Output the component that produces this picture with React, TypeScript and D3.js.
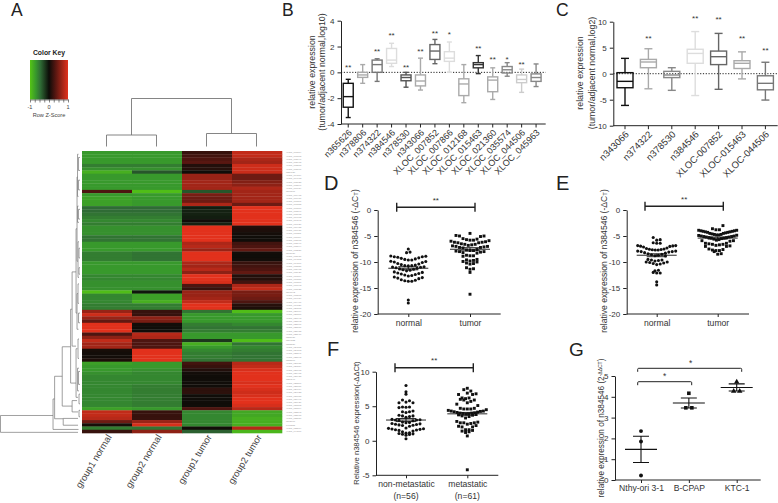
import React, { useEffect, useRef } from "react";
import * as d3 from "d3";

const FONT = "'Liberation Sans', Arial, sans-serif";
const INK = "#333";

// panel A - heatmap (row z-scores)
const heatColumns = ["group1 normal", "group2 normal", "group1 tumor", "group2 tumor"];
const group1Normal = [-.7,-.7,-.7,-.7,-.55,-.65,-.85,-.7,-.7,-.7,-.7,-.7,.3,-.7,-.75,-.75,-.75,-.45,-.45,-.5,-.55,-.6,-.55,-.65,-.65,-.65,-.5,-.5,-.7,-.7,-.7,-.55,-.55,-.55,-.7,-.7,-.7,-.7,-.6,-.6,-.65,-.65,-.65,-.95,-.6,-.6,-.6,-.55,-.55,.65,.9,.65,.4,1,1,1,.3,.6,.85,.7,.7,.05,.03,.03,.08,-.75,-.7,-.7,-.65,-.6,-.6,-.6,-.6,-.6,-.6,-.6,-.6,-.6,-.6,-.75,.85,.85,.8,.45,.05,-.55,.2];
const group2Normal = [-.7,-.7,-.7,-.7,-.55,-.65,-.35,-.7,-.7,-.7,-.7,-.7,-.95,-.7,-.7,-.7,-.7,-.45,-.45,-.5,-.55,-.6,-.55,-.65,-.65,-.65,-.5,-.5,-.7,-.7,-.7,-.5,-.5,-.5,-.7,-.7,-.7,-.7,-.6,-.6,-.65,-.65,-.65,-.05,-.75,-.75,-.85,-.55,-.55,.2,.2,.6,.5,.03,.02,.02,.8,.75,.3,.3,.3,1,1,1,1,-.7,-.7,-.65,-.6,-.6,-.6,-.6,-.55,-.55,-.55,-.55,-.55,-.55,-.55,-.7,.2,.2,.2,.65,.95,-.5,.6];
const group1Tumor = [.2,.25,.3,.35,.1,.12,.02,.65,.65,.7,.7,.7,-.35,.5,.45,.45,.75,-.08,-.1,-.1,-.08,.02,-.1,1,1,1,1,1,.75,.8,.65,1,1,1,.75,.7,.8,.6,1,1,.95,.3,.2,.65,.65,.7,.85,1,1,-.5,-.7,-.7,-.7,-.55,-.5,-.55,-.7,-.7,-.2,-.85,-.7,-.6,-.55,-.55,-.5,.25,.2,.1,.03,.02,.02,.02,.02,.15,.15,.02,.02,.02,.02,.3,-.6,-.6,-.6,-.6,-.6,.03,-.4];
const group2Tumor = [.85,.85,.75,.7,.9,.9,.88,.45,.45,.55,.6,.75,.7,.7,.7,.7,.45,1,1,1,1,1,1,.1,.08,.04,.02,.02,.25,.3,.4,.03,.02,.03,.2,.25,.3,.4,.1,.12,.25,.75,.85,.5,.5,.45,.3,.12,.08,-.95,-.7,-.7,-.7,-.6,-.5,-.55,-.7,-.7,-.95,-.5,-.6,-.55,-.5,-.5,-.5,.8,.85,.95,1,1,1,.95,1,.95,.9,.95,1,1,.95,.8,-.8,-.8,-.85,-.85,-.85,.8,-.9];
const heatRowLabels = [
  "XLOC_001374","XLOC_001862","XLOC_002147","XLOC_002905","XLOC_003318","XLOC_003761","n334126","XLOC_004219","XLOC_004673","XLOC_005128","XLOC_005590","XLOC_006034",
  "n340871","XLOC_006412","XLOC_006957","XLOC_007301","XLOC_007852","XLOC_007866","XLOC_008240","XLOC_008715","XLOC_009163","XLOC_009548","XLOC_010026","XLOC_010482",
  "XLOC_010937","XLOC_011305","XLOC_011769","XLOC_012168","XLOC_012640","XLOC_013094","XLOC_013527","n345630","XLOC_013981","XLOC_014362","XLOC_014806","XLOC_015237",
  "XLOC_015463","XLOC_015920","XLOC_016374","XLOC_016851","XLOC_017206","XLOC_017693","XLOC_018125","n347792","XLOC_018568","XLOC_019034","XLOC_019471","XLOC_019826",
  "XLOC_020315","XLOC_020764","XLOC_021360","XLOC_021748","XLOC_022193","XLOC_022607","XLOC_023051","XLOC_023482","XLOC_023916","n365626","n374322","n378530",
  "XLOC_024375","XLOC_024803","XLOC_025241","XLOC_025692","n378806","XLOC_026137","XLOC_026584","XLOC_027012","XLOC_027465","XLOC_027938","n384546","XLOC_028306",
  "XLOC_028751","XLOC_029174","XLOC_029623","XLOC_030058","XLOC_030491","XLOC_030927","XLOC_031362","XLOC_031804","XLOC_032245","XLOC_032718","XLOC_033150","n343066",
  "n401258","XLOC_035574","XLOC_044506",
];
const keyDomain = [-1, -.7, -.45, 0, .3, 1];
const keyColors = ["#55c414", "#38992c", "#2f6b35", "#0c0c08", "#4d1510", "#e2311c"];
const keyTicks = [-1, -.75, -.5, -.25, 0, .25, .5, .75, 1];
const keyLabels = [-1, 0, 1];

// dendrograms: [merge height, top/left member, bottom/right member, height of first child, height of second]
const colMerges = [
  [48, 0.5, 2.5, 11.5, 13],
  [11.5, 0, 1, 0, 0],
  [13, 2, 3, 0, 0],
];
const rowMerges = [
  [80.5, 81.6, 86.8, 27.3, 2], [27.3, 76.5, 85.9, 25.7, 1.5], [25.7, 69.5, 82.6, 18, 17],
  [18, 60.4, 78.7, 9.5, 8], [9.5, 48.8, 71.6, 8, 4], [8, 37.3, 60.2, 4, 4],
  [17, 82.5, 84.6, 2, 2], [8, 77, 80.5, 3, 2], [4, 24, 50, 3, 3], [4, 61, 76, 2.5, 2],
  [3, 8, 34, 2.5, 2], [3, 44, 55, 2, 1.5], [2.5, 1, 14, 1.5, 1.5], [2.5, 17, 22, 1.5, 1],
  [2, 28, 39, 1, 1], [2, 41, 47, 1, 1], [2, 58, 64, 1, 1], [2.5, 67, 74, 1, 1], [1.5, 2, 6, 0, 0],
  [1.5, 9, 12, 0, 0], [1.5, 18, 21, 0, 0], [1, 30, 33, 0, 0], [1, 36, 38, 0, 0], [1.5, 50, 53, 0, 0],
  [1.5, 68, 72, 0, 0], [1, 75, 78, 0, 0], [1, 80, 82, 0, 0],
];

// panel B
const bNames = ["n365626","n378806","n374322","n384546","n378530","n343066","XLOC_007852","XLOC_007866","XLOC_012168","XLOC_015463","XLOC_021360","XLOC_035574","XLOC_044506","XLOC_045963"];
const bLow = [-3.5,-.85,-.7,.45,-1.15,-1.37,.67,0,-2.35,-.1,-2.1,-.3,-1.55,-1.1];
const bQ1 = [-2.7,-.39,0,.7,-.65,-1.05,1,.85,-1.8,.35,-1.5,-.05,-.8,-.7];
const bMed = [-1.88,-.2,.6,.95,-.4,-.67,1.65,1.1,-.9,.6,-.6,.2,-.55,-.4];
const bQ3 = [-.85,0,.95,1.85,-.2,-.2,2.15,1.6,-.5,.75,-.35,.45,-.2,-.12];
const bHigh = [-.54,.6,1.05,2.25,0,1.1,2.55,2.35,.6,1.3,.35,.75,.25,.65];
const bColors = ["#111","#aaa","#777","#ddd","#555","#aaa","#666","#ddd","#aaa","#333","#aaa","#888","#ccc","#888"];
const bStars = ["**","","**","**","**","**","**","*","","**","**","*","**",""];
const bStarAt = [.52,0,1.8,2.97,.52,1.8,3.2,3.1,0,2.04,1.16,1.16,.8,0];
const bTicks = [-4,-2,0,2,4];

// panel C
const cNames = ["n343066","n374322","n378530","n384546","XLOC-007852","XLOC-015463","XLOC-044506"];
const cLow = [-6.1,-2.9,-3.2,-4.2,-3,-1,-5.07];
const cQ1 = [-2.7,1.15,-.75,2,1.75,1,-3.1];
const cMed = [-1.47,2.25,-.25,3.9,3.27,2,-1.85];
const cQ3 = [.2,2.75,.45,4.7,4.35,2.5,-.4];
const cHigh = [2.95,4.8,1.15,8.1,7.75,4.2,2.2];
const cColors = ["#111","#aaa","#888","#ddd","#666","#aaa","#777"];
const cStars = ["","**","","**","**","**","**"];
const cStarAt = [0,7.24,0,10.96,10.77,7.1,4.8];
const cTicks = [-10,-5,0,5,10];

// panels D, E
const dNormal = [-7.5,-8.1,-8.2,-8.85,-8.9,-9,-9,-9.1,-9.2,-9.3,-9.4,-9.5,-9.6,-9.6,-9.85,-9.9,-10,-10.1,-10.3,-10.4,-10.5,-10.6,-10.7,-10.7,-10.75,-10.9,-10.95,-11,-11.1,-11.2,-11.3,-11.4,-11.5,-11.6,-11.7,-11.9,-12,-12.1,-12.2,-12.3,-12.4,-12.5,-12.6,-12.7,-12.9,-13,-13.1,-13.2,-13.4,-13.5,-13.6,-13.7,-13.7,-17.3,-17.9];
const dTumor = [-4.5,-4.9,-5,-5,-5.1,-5.5,-5.6,-5.7,-5.8,-5.8,-5.9,-6,-6.1,-6.2,-6.2,-6.3,-6.3,-6.5,-6.6,-6.6,-6.7,-6.8,-6.9,-7,-7,-7.1,-7.2,-7.2,-7.3,-7.6,-7.7,-7.8,-7.8,-7.9,-8,-8,-8.1,-8.2,-8.3,-8.7,-8.8,-8.8,-8.9,-9.5,-9.6,-9.7,-9.8,-9.9,-10,-10.2,-10.3,-10.4,-11.1,-11.3,-11.4,-12,-16.2];
const eNormal = [-5.3,-5.7,-5.8,-6.3,-6.4,-6.4,-6.85,-6.85,-6.9,-6.95,-7,-7.1,-7.3,-7.4,-7.5,-7.55,-7.6,-7.65,-7.7,-7.7,-7.9,-7.9,-8,-8,-8.1,-8.2,-8.3,-8.4,-8.5,-8.6,-8.7,-8.8,-8.85,-9.5,-9.6,-9.6,-9.7,-9.8,-10,-10,-10.1,-10.2,-10.3,-10.4,-10.5,-11.6,-11.7,-12,-12.1,-12.1,-13.8,-14.4];
const eTumor = [-3,-3.6,-3.8,-3.8,-3.9,-3.9,-4,-4,-4.1,-4.1,-4.2,-4.2,-4.3,-4.3,-4.4,-4.5,-4.5,-4.6,-4.7,-4.7,-4.8,-4.8,-4.85,-4.9,-5,-5,-5.1,-5.1,-5.2,-5.2,-5.3,-5.3,-5.4,-5.4,-5.5,-5.6,-5.7,-5.8,-5.9,-5.9,-6,-6.4,-6.4,-6.5,-6.6,-6.6,-6.7,-6.8,-6.9,-7,-7,-7.5,-7.6,-7.7,-7.8,-7.8,-8,-8.4,-8.5];
const dLabels = ["normal", "tumor"];
const dMeans = [-11.2, -7.55];
const dErr = [.3, .3];
const eMeans = [-8.7, -5.4];
const eErr = [.28, .2];
const dTicks = [0,-5,-10,-15,-20];

// panel F
const fNormal = [8,7.1,6.75,5.9,5.8,5.6,5.5,5.5,4.9,4.9,4.85,4.8,4.3,4.2,4.2,4.1,3.7,3.6,3.6,3.5,3.4,3.1,3.05,3,3,2.95,2.9,2.7,2.65,2.6,2.5,2.45,2.4,2.35,2.3,2.25,2.2,2.1,1.85,1.8,1.75,1.7,1.65,1.6,1.55,1.5,1.4,1.3,1.15,1.1,1.05,1,.95,.9,.8,.3];
const fTumor = [7.6,7.4,7.2,6.9,6.8,6.7,6.7,6.2,6.2,6.1,6,5.9,5.9,5.7,5.5,5.3,5.1,4.7,4.7,4.6,4.6,4.6,4.5,4.4,4.3,4.3,4.25,4.2,4.15,4.1,4.05,4,4,3.95,3.9,3.85,3.8,3.75,3.7,3.6,3.5,3.3,2.8,2.7,2.6,2.6,2.6,2.5,2.4,2.2,2.1,2,2,1.6,1.6,1.5,1.4,1.3,1.2,.7,-4.2];
const fLabels = ["non-metastatic", "metastatic"];
const fCounts = ["(n=56)", "(n=61)"];
const fMeans = [3, 3.9];
const fErr = [.22, .2];
const fTicks = [-5,0,5,10];

// panel G
const gLabels = ["Nthy-ori 3-1", "B-CPAP", "KTC-1"];
const gPoints = [[2.35, 1.85, .22], [4.17, 3.47, 3.47], [4.72, 4.27, 4.27]];
const gMeans = [1.47, 3.7, 4.45];
const gErr = [.63, .24, .17];
const gTicks = [0,1,2,3,4,5];

type Sel = d3.Selection<any, any, any, any>;

const plainTick = (d: any) => String(d);

function makeText(g: Sel, x: number, y: number, str: string, size: number, anchor = "middle", color = INK) {
  return g.append("text").attr("x", x).attr("y", y).attr("font-size", size)
    .attr("text-anchor", anchor).attr("fill", color).text(str);
}

function styleAxis(ax: Sel, size: number) {
  ax.selectAll("path,line").attr("stroke", "#222").attr("stroke-width", 1);
  ax.selectAll("text").attr("font-size", size).attr("fill", INK).attr("font-family", FONT);
}

function rotatedLabel(g: Sel, x: number, y: number, size: number, str: string) {
  return g.append("text").attr("transform", `translate(${x},${y}) rotate(-90)`)
    .attr("text-anchor", "middle").attr("font-size", size).attr("fill", INK).text(str);
}

function drawBoxes(g: Sel, opts: any) {
  const { names, low, q1, med, q3, high, colors, stars, starAt, ticks, domain, x0, x1, xEnd, yTop, yBot, boxW, capW, labelSize } = opts;
  const x = d3.scaleBand().domain(names).range([x0, x1]);
  const y = d3.scaleLinear().domain(domain).range([yBot, yTop]);
  const cx = (n: string) => x(n)! + x.bandwidth() / 2;

  const ya = g.append("g").attr("transform", `translate(${x0},0)`)
    .call(d3.axisLeft(y).tickValues(ticks).tickSize(3.5).tickSizeOuter(0).tickFormat(plainTick));
  styleAxis(ya, 8);
  const xa = g.append("g").attr("transform", `translate(0,${yBot})`)
    .call(d3.axisBottom(x).tickSize(3.5).tickSizeOuter(0));
  styleAxis(xa, labelSize);
  xa.select(".domain").attr("d", `M${x0},0H${xEnd}`);
  xa.selectAll(".tick text").attr("text-anchor", "end").attr("x", -3.5).attr("y", 6.4).attr("dy", "0.35em")
    .attr("transform", "rotate(-45)");

  g.append("line").attr("x1", x0).attr("x2", xEnd).attr("y1", y(0)).attr("y2", y(0))
    .attr("stroke", "#222").attr("stroke-width", 1).attr("stroke-dasharray", "1.2 1.6");

  names.forEach((n: string, i: number) => {
    const c = cx(n);
    const b = g.append("g").attr("stroke", colors[i]).attr("stroke-width", 1.4).attr("fill", "none");
    b.append("line").attr("x1", c).attr("x2", c).attr("y1", y(high[i])).attr("y2", y(q3[i]));
    b.append("line").attr("x1", c).attr("x2", c).attr("y1", y(q1[i])).attr("y2", y(low[i]));
    b.append("line").attr("x1", c - capW / 2).attr("x2", c + capW / 2).attr("y1", y(high[i])).attr("y2", y(high[i]));
    b.append("line").attr("x1", c - capW / 2).attr("x2", c + capW / 2).attr("y1", y(low[i])).attr("y2", y(low[i]));
    b.append("rect").attr("x", c - boxW / 2).attr("width", boxW).attr("y", y(q3[i])).attr("height", y(q1[i]) - y(q3[i]));
    b.append("line").attr("x1", c - boxW / 2).attr("x2", c + boxW / 2).attr("y1", y(med[i])).attr("y2", y(med[i]));
    if (stars[i]) makeText(g, c, y(starAt[i]) + 4.5, stars[i], 8);
  });
}

// GraphPad style columns: each bin spreads out from the middle, lowest value in the centre
function swarm(values: number[], binSize: number, spacing: number, shift: number, maxWidth = 38) {
  const lo = d3.min(values)! - binSize * 2;
  const hi = d3.max(values)! + binSize * 2;
  const bins = d3.bin().domain([lo, hi]).thresholds(d3.range(Math.floor(lo) + shift, hi, binSize))(values);
  const out: { v: number; off: number }[] = [];
  bins.forEach((b) => {
    const s = [...b].sort(d3.ascending);
    const n = s.length;
    const step = n > 1 ? Math.min(spacing, maxWidth / (n - 1)) : spacing;
    s.forEach((v, i) => {
      const side = i % 2 ? 1 : -1;
      const r = n % 2 ? Math.ceil(i / 2) * side : (Math.floor(i / 2) + 0.5) * side;
      out.push({ v, off: r * step });
    });
  });
  return out;
}

function drawMeanBars(g: Sel, cx: number, y: any, mean: number, err: number, meanW: number, capW: number, sw = 1.1) {
  const p = d3.path();
  p.moveTo(cx - meanW / 2, y(mean)); p.lineTo(cx + meanW / 2, y(mean));
  p.moveTo(cx - capW / 2, y(mean + err)); p.lineTo(cx + capW / 2, y(mean + err));
  p.moveTo(cx - capW / 2, y(mean - err)); p.lineTo(cx + capW / 2, y(mean - err));
  p.moveTo(cx, y(mean + err)); p.lineTo(cx, y(mean - err));
  g.append("path").attr("d", p.toString()).attr("fill", "none").attr("stroke", "#111").attr("stroke-width", sw);
}

function drawScatter(g: Sel, opts: any) {
  const { a, b, labels, means, errs, ticks, domain, x0, xEnd, tickA, tickB, yTop, yBot, brY, brA, brB, spacing, binSize, shift } = opts;
  const y = d3.scaleLinear().domain(domain).range([yBot, yTop]);
  const x = d3.scalePoint().domain(labels).range([tickA, tickB]);

  const ya = g.append("g").attr("transform", `translate(${x0},0)`)
    .call(d3.axisLeft(y).tickValues(ticks).tickSize(3.5).tickSizeOuter(0).tickFormat(plainTick));
  styleAxis(ya, 8);
  const xa = g.append("g").attr("transform", `translate(0,${yBot})`)
    .call(d3.axisBottom(x).tickSize(3).tickSizeOuter(0));
  styleAxis(xa, 8.6);
  xa.select(".domain").attr("d", `M${x0},0H${xEnd}`);
  xa.selectAll(".tick text").attr("dy", 5.7);

  const br = d3.path();
  br.moveTo(brA, brY - 4.5); br.lineTo(brA, brY + 4.5);
  br.moveTo(brA, brY); br.lineTo(brB, brY);
  br.moveTo(brB, brY - 4.5); br.lineTo(brB, brY + 4.5);
  g.append("path").attr("d", br.toString()).attr("fill", "none").attr("stroke", "#222").attr("stroke-width", 1.4);
  makeText(g, (brA + brB) / 2, brY - 4.5, "**", 8);

  [a, b].forEach((vals: number[], k: number) => {
    const cx = x(labels[k])!;
    const sym = d3.symbol().type(k ? d3.symbolSquare : d3.symbolCircle).size(k ? 8.5 : 7.5)();
    g.append("g").selectAll("path").data(swarm(vals, binSize, spacing, shift)).join("path")
      .attr("d", sym as string).attr("fill", "#111")
      .attr("transform", (d) => `translate(${cx + d.off},${y(d.v)})`);
    drawMeanBars(g, cx, y, means[k], errs[k], 40, 20, 0.9);
  });
  return { x, y };
}

function drawHeatmap(g: Sel) {
  const x = d3.scaleBand().domain(heatColumns).range([82, 282]);
  const y = d3.scaleBand().domain(d3.range(group1Normal.length).map(String)).range([151, 433]);
  const color = d3.scaleLinear<string>().domain(keyDomain).range(keyColors);
  const cols = [group1Normal, group2Normal, group1Tumor, group2Tumor];

  cols.forEach((vals, c) => {
    g.append("g").selectAll("rect").data(vals).join("rect")
      .attr("x", x(heatColumns[c])!).attr("width", x.bandwidth() + 0.3)
      .attr("y", (_, i) => y(String(i))!).attr("height", y.bandwidth() + 0.3)
      .attr("fill", (d) => color(d));
  });

  g.append("g").selectAll("text").data(heatRowLabels).join("text")
    .attr("x", 286).attr("y", (_, i) => y(String(i))! + y.bandwidth() / 2 + 0.8)
    .attr("font-size", 2.3).attr("fill", "#999").text((d) => d);

  heatColumns.forEach((name) => {
    const cx = x(name)! + x.bandwidth() / 2 + 5;
    g.append("text").attr("transform", `translate(${cx},437) rotate(-59)`)
      .attr("text-anchor", "end").attr("font-size", 9.4).attr("fill", "#444").text(name);
  });

  // top dendrogram
  const colX = d3.scaleLinear().domain([0, 3]).range([106.5, 256.5]);
  const colH = d3.scaleLinear().domain([0, 48]).range([146.5, 98.5]);
  const tp = d3.path();
  colMerges.forEach(([h, l, r, hl, hr]) => {
    tp.moveTo(colX(l), colH(hl)); tp.lineTo(colX(l), colH(h)); tp.lineTo(colX(r), colH(h)); tp.lineTo(colX(r), colH(hr));
  });
  g.append("path").attr("d", tp.toString()).attr("fill", "none").attr("stroke", "#777").attr("stroke-width", 0.9);

  // left dendrogram
  const rowX = d3.scaleLinear().domain([0, 80.5]).range([80, 0.5]);
  const rowY = d3.scaleLinear().domain([0, 87]).range([151, 433]);
  const lp = d3.path();
  rowMerges.forEach(([h, t, b, ht, hb]) => {
    lp.moveTo(rowX(ht), rowY(t)); lp.lineTo(rowX(h), rowY(t)); lp.lineTo(rowX(h), rowY(b)); lp.lineTo(rowX(hb), rowY(b));
  });
  g.append("path").attr("d", lp.toString()).attr("fill", "none").attr("stroke", "#777").attr("stroke-width", 0.7);

  // colour key
  const keyX = d3.scaleLinear().domain([-1, 1]).range([30, 68]);
  const grad = g.append("defs").append("linearGradient").attr("id", "keyGrad");
  keyDomain.forEach((d, i) => {
    grad.append("stop").attr("offset", `${((d + 1) / 2) * 100}%`).attr("stop-color", keyColors[i]);
  });
  g.append("rect").attr("x", keyX(-1)).attr("width", keyX(1) - keyX(-1)).attr("y", 60).attr("height", 39.5)
    .attr("fill", "url(#keyGrad)");
  const ka = g.append("g").attr("transform", "translate(0,99.5)")
    .call(d3.axisBottom(keyX).tickValues(keyTicks).tickSize(3).tickSizeOuter(0).tickFormat(() => ""));
  ka.selectAll("path,line").attr("stroke", "#333").attr("stroke-width", 0.6);
  keyLabels.forEach((v) => makeText(g, keyX(v), 109, String(v), 5.6, "middle", "#444"));
  makeText(g, 49, 54.5, "Color Key", 6.8, "middle", "#222").attr("font-weight", "bold");
  makeText(g, 49, 117, "Row Z-Score", 5.6, "middle", "#444");
}

function drawPanelG(g: Sel) {
  const y = d3.scaleLinear().domain([0, 5]).range([480, 376]);
  const x = d3.scalePoint().domain(gLabels).range([641, 736.7]);
  const ya = g.append("g").attr("transform", "translate(615,0)")
    .call(d3.axisLeft(y).tickValues(gTicks).tickSize(3.5).tickSizeOuter(0).tickFormat(plainTick));
  styleAxis(ya, 8);
  const xa = g.append("g").attr("transform", "translate(0,480)")
    .call(d3.axisBottom(x).tickSize(3).tickSizeOuter(0));
  styleAxis(xa, 8.6);
  xa.select(".domain").attr("d", "M615,0H760.7");
  xa.selectAll(".tick text").attr("dy", 5);

  const shapes = [d3.symbolCircle, d3.symbolSquare, d3.symbolTriangle];
  const sizes = [12, 13, 13];
  gLabels.forEach((name, k) => {
    const cx = x(name)!;
    drawMeanBars(g, cx, y, gMeans[k], gErr[k], 32, 16);
    const s = d3.symbol().type(shapes[k]).size(sizes[k])() as string;
    g.append("g").selectAll("path").data(swarm(gPoints[k], 0.1, 6, 0)).join("path")
      .attr("d", s).attr("fill", "#111")
      .attr("transform", (d) => `translate(${cx + d.off},${y(d.v)})`);
  });

  const bracket = (xa2: number, xb: number, yb: number, star: number) => {
    const p = d3.path();
    p.moveTo(xa2, yb + 3.5); p.lineTo(xa2, yb + 1); p.quadraticCurveTo(xa2, yb, xa2 + 1, yb);
    p.lineTo(xb - 1, yb); p.quadraticCurveTo(xb, yb, xb, yb + 1); p.lineTo(xb, yb + 3.5);
    g.append("path").attr("d", p.toString()).attr("fill", "none").attr("stroke", "#222").attr("stroke-width", 1);
    makeText(g, star, yb - 2.5, "*", 8.5);
  };
  bracket(637.7, 691.7, 381.7, 664.7);
  bracket(637.7, 741.7, 368.3, 690.7);
}

export default function App() {
  const ref = useRef<SVGSVGElement>(null);

  useEffect(() => {
    const svg = d3.select(ref.current);
    svg.selectAll("*").remove();
    const g: Sel = svg.append("g").attr("font-family", FONT);

    // panel letters
    const letters: [string, number, number, number][] = [
      ["A", 11, 16, 17.5], ["B", 282, 16, 17.5], ["C", 556, 16, 17.5],
      ["D", 324, 190, 20], ["E", 556, 190, 20], ["F", 327, 356, 20], ["G", 569, 356, 19],
    ];
    letters.forEach(([t, x, y, s]) => makeText(g, x, y, t, s, "start", "#222"));

    drawHeatmap(g);

    drawBoxes(g, {
      names: bNames, low: bLow, q1: bQ1, med: bMed, q3: bQ3, high: bHigh, colors: bColors,
      stars: bStars, starAt: bStarAt, ticks: bTicks, domain: [-4, 4],
      x0: 341, x1: 543.3, xEnd: 545.7, yTop: 20.7, yBot: 124, boxW: 10, capW: 5, labelSize: 9,
    });
    rotatedLabel(g, 314.5, 72, 8.8, "relative expression");
    rotatedLabel(g, 325, 72, 8.8, "(tumor/adjacent normal,log10)");

    drawBoxes(g, {
      names: cNames, low: cLow, q1: cQ1, med: cMed, q3: cQ3, high: cHigh, colors: cColors,
      stars: cStars, starAt: cStarAt, ticks: cTicks, domain: [-10, 10],
      x0: 613.3, x1: 777.1, xEnd: 777.7, yTop: 21.7, yBot: 125.7, boxW: 16, capW: 8, labelSize: 9.5,
    });
    rotatedLabel(g, 583, 73, 8.8, "relative expression");
    rotatedLabel(g, 594.5, 73, 8.8, "(tumor/adjacent normal,log2)");

    drawScatter(g, {
      a: dNormal, b: dTumor, labels: dLabels, means: dMeans, errs: dErr, ticks: dTicks, domain: [-20, 0],
      x0: 377.7, xEnd: 500.7, tickA: 408.3, tickB: 470, yTop: 210, yBot: 314,
      brY: 207.3, brA: 396.7, brB: 475, spacing: 3.5, binSize: 1, shift: 0.2,
    });
    const dLab = rotatedLabel(g, 358, 261, 8.6, "relative expression of n384546 (-ΔC");
    dLab.append("tspan").attr("font-size", 6).text("T");
    dLab.append("tspan").text(")");

    drawScatter(g, {
      a: eNormal, b: eTumor, labels: dLabels, means: eMeans, errs: eErr, ticks: dTicks, domain: [-20, 0],
      x0: 626.7, xEnd: 749, tickA: 656.7, tickB: 717.7, yTop: 210, yBot: 314,
      brY: 206.3, brA: 645, brB: 723.3, spacing: 3.5, binSize: 1, shift: 0.2,
    });
    const eLab = rotatedLabel(g, 607, 261, 8.6, "relative expression of n384546 (-ΔC");
    eLab.append("tspan").attr("font-size", 6).text("T");
    eLab.append("tspan").text(")");

    const f = drawScatter(g, {
      a: fNormal, b: fTumor, labels: fLabels, means: fMeans, errs: fErr, ticks: fTicks, domain: [-5, 10],
      x0: 376, xEnd: 498.3, tickA: 406, tickB: 467.3, yTop: 371.7, yBot: 475.3,
      brY: 367.7, brA: 395, brB: 473.3, spacing: 3.5, binSize: 0.75, shift: 0.1,
    });
    fLabels.forEach((n, i) => makeText(g, f.x(n)!, 499, fCounts[i], 8.6));
    rotatedLabel(g, 359, 423, 7.6, "Relative n384546 expression(-ΔΔCt)");

    drawPanelG(g);
    const gLab = rotatedLabel(g, 604, 428, 8.2, "relative expression of n384546 (2");
    gLab.append("tspan").attr("font-size", 5).attr("dy", -2.5).text("-ΔΔCT");
    gLab.append("tspan").attr("dy", 2.5).text(")");
  }, []);

  return <svg ref={ref} width={778} height={503} style={{ position: "absolute", left: 0, top: 0, background: "#fff" }} />;
}
